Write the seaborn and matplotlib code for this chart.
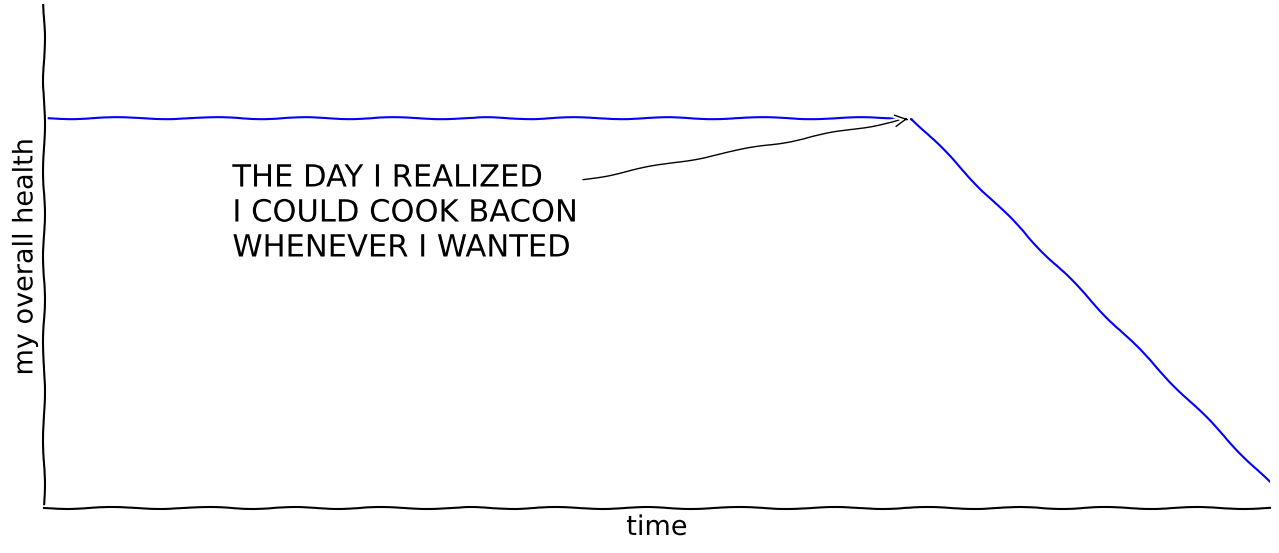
import matplotlib
matplotlib.use("Agg")
import matplotlib.pyplot as plt
import seaborn as sns
import pandas as pd

# health over time: flat, then the bacon day
time = list(range(100))
health = [1] * 71 + [0, -1, -2, -3, -4, -5, -6, -7, -8, -9, -10, -11, -12, -13, -14,
                     -15, -16, -17, -18, -19, -20, -21, -22, -23, -24, -25, -26, -27, -28]
note_text = "THE DAY I REALIZED\nI COULD COOK BACON\nWHENEVER I WANTED"
note_xy = (70, 1)
note_text_xy = (15, -10)

df = pd.DataFrame({"time": time, "health": health})

with plt.xkcd():
    plt.rcParams["font.family"] = ["DejaVu Sans"]
    fig = plt.figure(figsize=(12.79, 5.53), dpi=100)
    ax = fig.add_axes((44 / 1279, 45 / 553, 1226 / 1279, 503 / 553))
    ax.spines[["top", "right"]].set_visible(False)

    sns.lineplot(data=df, x="time", y="health", color="blue", linewidth=1.5, ax=ax)

    ax.set_xticks([])
    ax.set_yticks([])
    ax.set_xlim(-0.25, 99)
    ax.set_ylim(-30, 10)

    ax.annotate(note_text, xy=note_xy, xytext=note_text_xy,
                arrowprops=dict(arrowstyle="->", lw=1.0), fontsize=22, linespacing=1.26)

    ax.set_xlabel("time", fontsize=19.5, labelpad=5)
    ax.set_ylabel("my overall health", fontsize=19.5, labelpad=4)

    fig.savefig("out.png", dpi=100)
